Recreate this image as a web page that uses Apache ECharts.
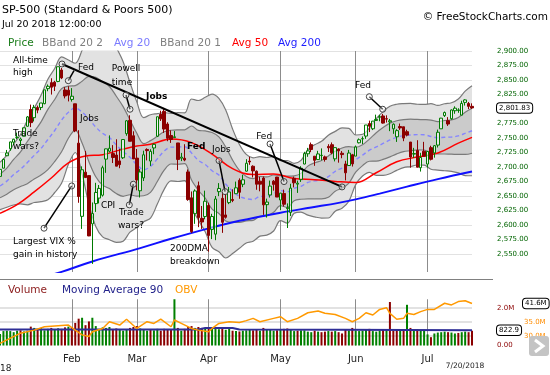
<!DOCTYPE html>
<html><head><meta charset="utf-8">
<script src="https://cdn.jsdelivr.net/npm/echarts@6/dist/echarts.min.js"></script>
<style>html,body{margin:0;padding:0;background:#fff}#c{width:550px;height:375px}</style>
</head><body><div id="c"></div><script>
const dates = ['1/2','1/3','1/4','1/5','1/8','1/9','1/10','1/11','1/12','1/16','1/17','1/18','1/19','1/22','1/23','1/24','1/25','1/26','1/29','1/30','1/31',
'2/1','2/2','2/5','2/6','2/7','2/8','2/9','2/12','2/13','2/14','2/15','2/16','2/20','2/21','2/22','2/23','2/26','2/27','2/28',
'3/1','3/2','3/5','3/6','3/7','3/8','3/9','3/12','3/13','3/14','3/15','3/16','3/19','3/20','3/21','3/22','3/23','3/26','3/27','3/28','3/29',
'4/2','4/3','4/4','4/5','4/6','4/9','4/10','4/11','4/12','4/13','4/16','4/17','4/18','4/19','4/20','4/23','4/24','4/25','4/26','4/27','4/30',
'5/1','5/2','5/3','5/4','5/7','5/8','5/9','5/10','5/11','5/14','5/15','5/16','5/17','5/18','5/21','5/22','5/23','5/24','5/25','5/29','5/30','5/31',
'6/1','6/4','6/5','6/6','6/7','6/8','6/11','6/12','6/13','6/14','6/15','6/18','6/19','6/20','6/21','6/22','6/25','6/26','6/27','6/28','6/29',
'7/2','7/3','7/5','7/6','7/9','7/10','7/11','7/12','7/13','7/16','7/17','7/18','7/19','7/20'];
const monthNames = ['Jan','Feb','Mar','Apr','May','Jun','Jul'];

const open = [2683.73,2697.85,2719.31,2731.33,2742.67,2751.15,2745.55,2752.97,2770.18,2798.96,2784.99,2802.40,2802.60,2809.16,2835.05,2845.42,2846.24,2847.48,2867.23,2832.74,2832.41,
2816.45,2808.92,2741.06,2614.78,2690.95,2685.01,2601.78,2636.75,2646.27,2651.21,2713.46,2727.14,2722.99,2720.53,2710.42,2715.80,2757.37,2780.45,2753.78,
2715.22,2658.89,2681.06,2730.18,2710.18,2732.75,2752.91,2790.54,2795.89,2774.06,2754.27,2750.57,2741.38,2715.05,2714.99,2691.36,2646.71,2619.35,2667.57,2611.30,2614.41,
2633.45,2592.17,2584.04,2657.36,2645.82,2617.18,2638.41,2643.89,2653.83,2676.90,2670.10,2692.74,2710.11,2701.16,2692.56,2675.40,2680.80,2634.92,2651.65,2675.47,2682.51,
2642.96,2654.24,2628.08,2621.45,2680.34,2670.26,2678.12,2705.02,2722.70,2738.47,2718.59,2712.62,2719.71,2717.35,2735.39,2738.34,2713.98,2730.94,2723.60,2705.11,2702.43,2720.98,
2718.70,2741.67,2748.46,2753.25,2774.84,2765.84,2780.18,2785.60,2787.94,2783.21,2777.78,2765.79,2752.01,2769.73,2769.28,2760.79,2742.94,2722.12,2728.45,2698.69,2727.13,
2704.95,2733.27,2724.19,2737.68,2765.79,2788.56,2779.82,2783.14,2796.93,2797.36,2789.34,2811.35,2809.37,2804.55];
const high = [2695.89,2714.37,2729.29,2743.45,2748.51,2759.14,2750.80,2767.56,2787.85,2807.54,2807.04,2805.83,2810.33,2833.03,2842.24,2852.97,2848.56,2872.87,2870.62,2837.75,2839.26,
2835.96,2808.92,2763.39,2701.04,2727.67,2685.27,2638.67,2672.61,2668.84,2702.10,2731.51,2754.42,2737.60,2747.75,2731.26,2747.76,2780.64,2789.15,2761.52,
2730.89,2696.25,2728.09,2732.08,2730.60,2740.45,2786.57,2796.98,2801.90,2777.11,2763.03,2761.85,2741.38,2724.22,2739.14,2695.68,2657.67,2661.36,2674.78,2632.65,2659.07,
2638.30,2619.14,2649.86,2672.08,2656.88,2653.55,2665.45,2661.43,2674.72,2680.26,2686.49,2713.34,2717.49,2702.84,2693.94,2682.86,2683.55,2645.30,2676.48,2677.35,2682.87,
2655.27,2660.87,2637.14,2670.93,2683.35,2676.34,2701.27,2726.11,2732.86,2742.10,2718.59,2727.76,2731.96,2719.50,2739.19,2742.24,2733.33,2731.97,2727.36,2710.67,2729.34,2722.50,
2736.93,2749.16,2752.61,2772.39,2779.90,2779.39,2790.21,2789.80,2791.47,2789.06,2782.81,2774.99,2765.05,2774.86,2769.28,2764.17,2742.94,2732.91,2746.09,2724.34,2743.26,
2727.26,2736.58,2737.83,2764.41,2784.65,2795.58,2785.91,2799.22,2804.53,2801.19,2814.19,2816.76,2812.05,2809.70];
const low = [2682.36,2697.77,2719.07,2727.92,2737.60,2747.86,2736.06,2752.78,2769.64,2768.64,2778.38,2792.56,2798.08,2808.12,2830.59,2824.81,2830.94,2846.18,2851.48,2818.27,2813.04,
2812.70,2759.97,2638.17,2593.07,2681.33,2580.56,2532.69,2622.45,2637.08,2648.87,2689.82,2725.11,2706.76,2701.29,2697.77,2713.74,2753.78,2744.22,2713.54,
2659.65,2647.32,2675.75,2711.26,2701.74,2721.92,2751.54,2779.26,2758.68,2744.38,2741.47,2749.97,2694.59,2710.05,2709.79,2641.59,2585.89,2601.81,2596.12,2593.06,2609.72,
2553.80,2575.49,2573.61,2649.58,2586.27,2610.79,2635.78,2639.25,2653.83,2645.05,2665.16,2692.05,2703.63,2681.90,2660.61,2657.99,2617.32,2612.67,2647.16,2659.01,2648.04,
2625.41,2631.70,2594.62,2615.32,2664.70,2655.20,2674.14,2704.54,2717.45,2725.47,2701.91,2712.17,2711.36,2709.18,2725.70,2721.88,2709.54,2707.38,2714.99,2676.81,2702.43,2700.68,
2718.70,2740.54,2739.51,2748.46,2760.16,2763.59,2780.17,2778.78,2774.65,2776.52,2761.73,2757.12,2743.19,2763.91,2744.39,2752.68,2698.67,2715.60,2699.38,2691.99,2718.03,
2698.95,2711.16,2716.02,2733.52,2765.79,2786.24,2770.77,2781.53,2791.69,2793.39,2789.24,2805.89,2799.77,2800.01];
const close = [2695.81,2713.06,2723.99,2743.15,2747.71,2751.29,2748.23,2767.56,2786.24,2776.42,2802.56,2798.03,2810.30,2832.97,2839.13,2837.54,2839.25,2872.87,2853.53,2822.43,2823.81,
2821.98,2762.13,2648.94,2695.14,2681.66,2581.00,2619.55,2656.00,2662.94,2698.63,2731.20,2732.22,2716.26,2701.33,2703.96,2747.30,2779.60,2744.28,2713.83,
2677.67,2691.25,2720.94,2728.12,2726.80,2738.97,2786.57,2783.02,2765.31,2749.48,2747.33,2752.01,2712.92,2716.94,2711.93,2643.69,2588.26,2658.55,2612.62,2605.00,2640.87,
2581.88,2614.45,2644.69,2662.84,2604.47,2613.16,2656.87,2642.19,2663.99,2656.30,2677.84,2706.39,2708.64,2693.13,2670.14,2670.29,2634.56,2639.40,2666.94,2669.91,2648.05,
2654.80,2635.67,2629.73,2663.42,2672.63,2671.92,2697.79,2723.07,2727.72,2730.13,2711.45,2722.46,2720.13,2712.97,2733.01,2724.44,2733.29,2727.76,2721.33,2689.86,2724.01,2705.27,
2734.62,2746.87,2748.80,2772.35,2770.37,2779.03,2782.00,2786.85,2775.63,2782.49,2779.66,2773.75,2762.59,2767.32,2749.76,2754.88,2717.07,2723.06,2699.63,2716.31,2718.37,
2726.71,2713.22,2736.61,2759.82,2784.17,2793.84,2774.02,2798.29,2801.31,2798.43,2809.55,2815.62,2804.49,2801.83];
const prevClose = 2673.61;

const volume = [0.62,0.78,0.80,0.78,0.72,0.80,0.82,0.76,0.80,1.02,0.95,0.88,0.95,0.82,0.90,0.95,0.88,0.93,0.90,0.98,1.02,
1.00,1.22,1.45,1.50,1.10,1.30,1.50,1.05,0.88,0.98,0.95,1.00,0.85,0.92,0.88,0.80,0.85,0.95,1.00,
1.05,0.92,0.85,0.80,0.85,0.82,0.90,0.80,0.90,0.88,0.85,2.50,0.95,0.80,0.90,1.00,1.05,0.95,1.00,0.95,0.90,
1.00,0.92,1.00,0.88,0.92,0.85,0.90,0.80,0.78,0.76,0.80,0.82,0.85,0.82,0.85,0.80,0.95,0.88,0.85,0.80,0.82,
0.88,0.90,0.92,0.85,0.78,0.80,0.82,0.82,0.75,0.72,0.80,0.75,0.72,0.75,0.78,0.75,0.78,0.72,0.65,0.85,0.82,0.95,
0.80,0.78,0.80,0.88,0.90,0.78,0.75,0.80,0.85,0.82,2.35,0.80,0.88,0.82,0.85,2.20,0.95,0.82,0.88,0.80,0.85,
0.60,0.45,0.65,0.70,0.72,0.75,0.72,0.70,0.65,0.68,0.72,0.75,0.72,0.80];

const bandIdx = [0,2,4,6,8,10,12,14,16,18,20,22,24,26,28,30,32,34,36,38,40,42,44,46,48,50,52,54,56,58,60,62,64,66,68,70,72,74,76,78,80,82,84,86,88,90,92,94,96,98,100,102,104,106,108,110,112,114,116,118,120,122,124,126,128,130,132,134,136,138];
const bbUpper2 = [2707.9,2720.5,2739.2,2756.0,2780.3,2801.4,2823.7,2851.3,2869.9,2889.7,2884.5,2878.9,2901.3,2929.9,2940.2,2936.6,2926.9,2906.0,2881.5,2845.5,2812.2,2785.0,2790.0,2791.9,2793.7,2792.4,2793.7,2793.3,2817.2,2814.6,2820.1,2825.5,2818.1,2798.1,2765.5,2738.8,2721.6,2715.8,2717.8,2716.3,2718.3,2711.0,2711.1,2706.3,2711.2,2729.6,2738.2,2744.2,2754.7,2761.3,2767.3,2766.4,2755.1,2756.3,2767.1,2783.4,2795.5,2804.7,2808.1,2809.3,2809.8,2808.1,2807.8,2809.2,2806.1,2809.0,2810.8,2817.3,2830.7,2840.0];
const bbUpper1 = [2687.5,2698.0,2713.0,2726.1,2743.9,2760.7,2777.8,2799.3,2816.4,2835.2,2839.5,2840.4,2847.9,2856.3,2854.5,2847.3,2838.8,2822.0,2804.1,2781.0,2758.0,2740.1,2745.4,2752.9,2760.6,2763.3,2764.0,2764.1,2770.6,2763.0,2762.1,2759.4,2752.0,2734.3,2711.8,2694.0,2683.4,2679.8,2683.5,2682.8,2686.1,2685.1,2684.1,2684.7,2688.9,2701.4,2707.1,2711.1,2719.0,2726.9,2732.7,2735.0,2733.7,2738.3,2748.0,2758.9,2768.0,2775.6,2779.6,2781.7,2782.5,2781.9,2781.6,2780.9,2778.2,2780.1,2781.2,2785.4,2794.3,2801.2];
const avg20 = [2667.1,2675.5,2686.8,2696.1,2707.5,2720.0,2731.9,2747.3,2762.9,2780.7,2794.5,2801.9,2794.5,2782.7,2768.8,2758.0,2750.7,2738.0,2726.7,2716.5,2703.8,2695.2,2700.8,2713.9,2727.5,2734.2,2734.3,2734.9,2724.0,2711.4,2704.1,2693.3,2685.9,2670.5,2658.0,2649.2,2645.2,2643.8,2649.2,2649.3,2653.9,2659.2,2657.1,2663.1,2666.6,2673.2,2676.0,2678.0,2683.3,2692.5,2698.1,2703.6,2712.3,2720.3,2728.9,2734.4,2740.5,2746.5,2751.1,2754.1,2755.2,2755.7,2755.4,2752.6,2750.3,2751.2,2751.6,2753.5,2757.9,2762.4];
const bbLower1 = [2646.7,2653.0,2660.6,2666.2,2671.1,2679.3,2686.0,2695.3,2709.4,2726.2,2749.5,2763.4,2741.1,2709.1,2683.1,2668.7,2662.6,2654.0,2649.3,2652.0,2649.6,2650.3,2656.2,2674.9,2694.4,2705.1,2704.6,2705.7,2677.4,2659.8,2646.1,2627.2,2619.8,2606.7,2604.3,2604.4,2607.0,2607.8,2614.9,2615.8,2621.7,2633.3,2630.1,2641.5,2644.3,2645.0,2644.9,2644.9,2647.6,2658.1,2663.5,2672.2,2690.9,2702.3,2709.8,2709.9,2713.0,2717.4,2722.6,2726.5,2727.9,2729.5,2729.2,2724.3,2722.4,2722.3,2722.0,2721.6,2721.5,2723.6];
const bbLower2 = [2626.3,2630.5,2634.4,2636.2,2634.7,2638.6,2640.1,2643.3,2655.9,2671.7,2704.5,2724.9,2687.7,2635.5,2597.4,2579.4,2574.5,2570.0,2571.9,2587.5,2595.4,2605.4,2611.6,2635.9,2661.3,2676.0,2674.9,2676.5,2630.8,2608.2,2588.1,2561.1,2553.7,2542.9,2550.5,2559.6,2568.8,2571.8,2580.6,2582.3,2589.5,2607.4,2603.1,2619.9,2622.0,2616.8,2613.8,2611.8,2611.9,2623.7,2628.9,2640.8,2669.5,2684.3,2690.7,2685.4,2685.5,2688.3,2694.1,2698.9,2700.6,2703.3,2703.0,2696.0,2694.5,2693.4,2692.4,2689.7,2685.1,2684.8];

const avg50Idx = [0,5,10,15,20,25,30,35,40,44,50,56,62,68,74,80,86,92,98,104,110,116,122,128,134,138];
const avg50 = [2620,2635,2657,2681,2707,2719,2721,2729,2736,2739,2748,2742,2722,2697,2687,2688,2680,2678,2675,2673,2690,2709,2717,2724,2741,2751];
const avg200Idx = [0,18,27,41,50,61,70,82,91,99,104,111,119,128,138];
const avg200 = [2488,2519,2537,2560,2576,2594,2607,2621,2630,2638,2644,2654,2666,2679,2692];

const volMa90Idx = [0,58,60,68,70,100,138];
const volMa90 = [0.86,0.87,0.95,0.95,0.87,0.85,0.8229];
const obvIdx = [0,6,10,13,16,20,22,24,26,27,30,32,35,37,40,43,45,47,50,51,53,56,58,61,62,64,67,70,72,74,76,80,82,84,87,90,93,95,98,101,103,105,107,109,111,113,114,116,118,119,121,123,125,127,130,132,134,136,138];
const obv = [27.4,31.0,32.1,33.3,33.6,33.9,32.1,30.4,29.8,31.5,32.7,35.1,33.9,36.0,32.7,35.1,34.5,36.0,33.3,35.7,34.5,32.7,32.1,31.5,32.7,34.5,35.1,34.8,35.5,36.3,35.1,36.3,36.9,35.1,36.3,38.3,38.9,38.1,37.7,36.3,35.1,36.3,38.3,37.5,39.5,40.1,38.1,36.0,36.3,38.1,37.7,38.7,39.5,39.5,41.7,41.1,42.3,42.6,41.6];

const priceTicks = [2550,2575,2600,2625,2650,2675,2700,2725,2750,2775,2800,2825,2850,2875,2900];
const obvTicks = [30,35];
const obvGridVals = [30,35,40];

const annTexts = [
  ['All-time',3.8,2883,0],['high',3.8,2862,0],['Fed',22.8,2872,0],['Powell',32.7,2869,0],['time',32.7,2845,0],
  ['Jobs',42.7,2822,1],['Jobs',23.4,2783,0],['Trade',3.8,2757,0],['wars?',3.8,2734.5,0],['CPI',29.5,2633,0],
  ['Trade',34.8,2621,0],['wars?',34.5,2598,0],['Largest VIX %',3.8,2571,0],['gain in history',3.8,2548,0],
  ['Fed',54.7,2734.5,1],['Jobs',62.0,2729,0],['200DMA',49.7,2559,0],['breakdown',49.7,2536,0],['Fed',74.9,2753,0],['Fed',103.8,2840,0]
];
const annLines = [
  [18.13,2877.6,100.0,2665.5,1,1,2],
  [19.97,2848.8,21.64,2866.0,1,0,1.5],
  [36.84,2824.1,38.01,2799.5,1,1,1.5],
  [12.87,2594.3,20.96,2667.2,1,1,1.5],
  [37.81,2634.5,38.98,2670.2,1,1,1.5],
  [64.04,2710.9,65.79,2657.4,1,1,1.5],
  [78.95,2739.7,83.04,2674.7,1,1,1.5],
  [107.98,2821.2,111.9,2799.5,1,1,1.5]
];

const FONT = "'DejaVu Sans', Verdana, sans-serif";
const UP = '#008000', DOWN = '#8b0000';
const N = dates.length;
const mon = d => +d.split('/')[0];
const isMonthStart = i => i > 0 && mon(dates[i]) !== mon(dates[i-1]);
const pairs = (idx, vals) => idx.map((x, k) => [x, vals[k]]);
const diff = (a, b) => a.map((v, k) => +(v - b[k]).toFixed(2));

const yMin = 2518.75, yMax = 2900, yStep = 6.25;
const priceSplitColors = [];
for (let v = yMin; v <= yMax + 1e-6; v += yStep) priceSplitColors.push(priceTicks.includes(v) ? '#e2e2e2' : 'rgba(0,0,0,0)');
const oMin = 26.25, oMax = 45, oStep = 1.25;
const obvSplitColors = [];
for (let v = oMin; v <= oMax + 1e-6; v += oStep) obvSplitColors.push(obvGridVals.includes(v) ? '#e2e2e2' : 'rgba(0,0,0,0)');

const fmt2 = v => v.toLocaleString('en-US', {minimumFractionDigits: 2, maximumFractionDigits: 2});

const candleData = open.map((o, i) => [o, close[i], low[i], high[i]]);
const volData = volume.map((v, i) => ({value: v, itemStyle: {color: (i === 0 ? close[0] >= prevClose : close[i] >= close[i-1]) ? UP : DOWN}}));

const chart = echarts.init(document.getElementById('c'), null, {width: 550, height: 375});

const xBase = {type: 'category', data: dates, boundaryGap: false, axisLine: {show: false}, axisTick: {show: false}};
const vSplit = {show: true, interval: (i) => isMonthStart(i), lineStyle: {color: '#8c8c8c', width: 1}};
const bandCommon = {type: 'line', xAxisIndex: 0, yAxisIndex: 0, stack: 'bb', symbol: 'none', smooth: 0.35, silent: true, lineStyle: {color: '#7a7a7a', width: 1.2}, z: 1};

chart.setOption({
  animation: false,
  grid: [
    {left: 0, top: 51, width: 472, height: 221},
    {left: 0, top: 299.25, width: 472, height: 46.25},
    {left: 0, top: 294, width: 472, height: 52.5}
  ],
  xAxis: [
    Object.assign({}, xBase, {gridIndex: 0, axisLabel: {show: false}, splitLine: vSplit}),
    Object.assign({}, xBase, {gridIndex: 1, splitLine: vSplit,
      axisLabel: {show: true, interval: (i) => isMonthStart(i), formatter: (v) => monthNames[mon(v) - 1], color: '#222', fontSize: 10, fontFamily: FONT, margin: 8.5}}),
    Object.assign({}, xBase, {gridIndex: 2, axisLabel: {show: false}, splitLine: {show: false}})
  ],
  yAxis: [
    {type: 'value', gridIndex: 0, position: 'right', min: yMin, max: yMax, interval: yStep, scale: true,
     axisLine: {show: false}, axisTick: {show: false},
     axisLabel: {margin: 25, color: '#006400', fontSize: 7, fontFamily: FONT, formatter: (v) => priceTicks.includes(v) ? fmt2(v) : ''},
     splitLine: {show: true, lineStyle: {color: priceSplitColors, width: 1}}},
    {type: 'value', gridIndex: 1, position: 'right', min: 0, max: 2.5, interval: 0.5,
     axisLine: {show: false}, axisTick: {show: false}, splitLine: {show: false},
     axisLabel: {margin: 25, color: '#8b0000', fontSize: 7, fontFamily: FONT, formatter: (v) => v === 0 ? '0.00' : (v === 2 ? '2.0M' : '')}},
    {type: 'value', gridIndex: 2, position: 'right', min: oMin, max: oMax, interval: oStep,
     axisLine: {show: false}, axisTick: {show: false},
     splitLine: {show: true, lineStyle: {color: obvSplitColors, width: 2}},
     axisLabel: {margin: 52, color: '#ff8c00', fontSize: 7, fontFamily: FONT, formatter: (v) => obvTicks.includes(v) ? v.toFixed(1) + 'M' : ''}}
  ],
  series: [
    Object.assign({}, bandCommon, {name: 'bbL2', data: pairs(bandIdx, bbLower2)}),
    Object.assign({}, bandCommon, {name: 'bbL1', data: pairs(bandIdx, diff(bbLower1, bbLower2)), areaStyle: {color: '#e2e2e2', opacity: 1}}),
    Object.assign({}, bandCommon, {name: 'bbU1', data: pairs(bandIdx, diff(bbUpper1, bbLower1)), areaStyle: {color: '#cbcbcb', opacity: 1}}),
    Object.assign({}, bandCommon, {name: 'bbU2', data: pairs(bandIdx, diff(bbUpper2, bbUpper1)), areaStyle: {color: '#e2e2e2', opacity: 1}}),
    {type: 'line', name: 'avg20', xAxisIndex: 0, yAxisIndex: 0, data: pairs(bandIdx, avg20), symbol: 'none', smooth: 0.35, silent: true,
     lineStyle: {color: '#8585ff', width: 1.4, type: [4, 3]}, z: 3},
    {type: 'line', name: 'avg50', xAxisIndex: 0, yAxisIndex: 0, data: pairs(avg50Idx, avg50), symbol: 'none', smooth: 0.4, silent: true,
     lineStyle: {color: '#ff0000', width: 1.5}, z: 3},
    {type: 'line', name: 'avg200', xAxisIndex: 0, yAxisIndex: 0, data: pairs(avg200Idx, avg200), symbol: 'none', smooth: 0.4, silent: true,
     lineStyle: {color: '#1010ff', width: 2}, z: 3},
    {type: 'candlestick', name: 'price', xAxisIndex: 0, yAxisIndex: 0, data: candleData, barWidth: 3, clip: false, silent: true,
     itemStyle: {color: 'rgba(255,255,255,0.55)', color0: DOWN, borderColor: '#007a00', borderColor0: DOWN, borderWidth: 1}, z: 5},
    {type: 'bar', name: 'volume', xAxisIndex: 1, yAxisIndex: 1, data: volData, barWidth: 2, silent: true, z: 2},
    {type: 'line', name: 'ma90', xAxisIndex: 1, yAxisIndex: 1, data: pairs(volMa90Idx, volMa90), symbol: 'none', silent: true,
     lineStyle: {color: '#2e2e96', width: 2}, z: 3},
    {type: 'line', name: 'obv', xAxisIndex: 2, yAxisIndex: 2, data: pairs(obvIdx, obv), symbol: 'none', silent: true,
     lineStyle: {color: '#ff9900', width: 1.5}, z: 4}
  ]
});

function toPx(i, p) {
  const i0 = Math.floor(i), f = i - i0;
  const a = chart.convertToPixel({xAxisIndex: 0, yAxisIndex: 0}, [i0, p]);
  const b = chart.convertToPixel({xAxisIndex: 0, yAxisIndex: 0}, [Math.min(i0 + 1, N - 1), p]);
  return [a[0] + (b[0] - a[0]) * f, a[1]];
}
const txt = (text, x, y, size, color) => ({type: 'text', x: x, y: y, z: 100,
  style: {text: text, font: size + 'px ' + FONT, fill: color, verticalAlign: 'middle', align: 'left'}});

const g = [];
g.push(txt('SP-500 (Standard & Poors 500)', 2, 10, 11, '#000'));
g.push(txt('Jul 20 2018 12:00:00', 2, 25, 9.5, '#000'));
g.push({type: 'text', x: 548, y: 17, z: 100, style: {text: '\u00a9 FreeStockCharts.com', font: '10.5px ' + FONT, fill: '#000', align: 'right', verticalAlign: 'middle'}});
[['Price', 8, '#1a7d1a'], ['BBand 20 2', 42, '#7f7f7f'], ['Avg 20', 114, '#7b7bff'], ['BBand 20 1', 160, '#7f7f7f'], ['Avg 50', 232, '#ff0000'], ['Avg 200', 278, '#1c1cff']]
  .forEach(([t, x, c]) => g.push(txt(t, x, 43, 10.5, c)));
[['Volume', 8, '#8b1a1a'], ['Moving Average 90', 62, '#22228b'], ['OBV', 175, '#ff9900']]
  .forEach(([t, x, c]) => g.push(txt(t, x, 290, 10.5, c)));
g.push({type: 'line', z: 100, shape: {x1: 0, y1: 279.5, x2: 493, y2: 279.5}, style: {stroke: '#808080', lineWidth: 1}});
g.push({type: 'text', x: 465, y: 366, z: 100, style: {text: '7/20/2018', font: '7.5px ' + FONT, fill: '#222', align: 'center', verticalAlign: 'middle'}});
g.push({type: 'text', x: 0, y: 369, z: 100, style: {text: '2018', font: '9px ' + FONT, fill: '#222', align: 'center', verticalAlign: 'middle'}});

const boxStyle = (text, size) => ({text: text, font: size + 'px ' + FONT, fill: '#000', verticalAlign: 'middle', align: 'left',
  backgroundColor: '#fff', borderColor: '#000', borderWidth: 1, borderRadius: 3, padding: [1.5, 2, 1, 2]});
const yLast = chart.convertToPixel({yAxisIndex: 0}, close[N - 1]);
g.push({type: 'text', x: 497, y: yLast, z: 110, style: boxStyle(fmt2(close[N - 1]), 7)});
const yObv = chart.convertToPixel({yAxisIndex: 2}, obv[obv.length - 1]);
g.push({type: 'text', x: 523, y: yObv, z: 110, style: boxStyle(obv[obv.length - 1].toFixed(1) + 'M', 7)});
const yMa = chart.convertToPixel({yAxisIndex: 1}, volMa90[volMa90.length - 1]);
g.push({type: 'text', x: 497, y: yMa, z: 110, style: boxStyle((volMa90[volMa90.length - 1] * 1000).toFixed(1), 7)});

g.push({type: 'rect', z: 100, shape: {x: 529, y: 336, width: 20, height: 20, r: 3}, style: {fill: '#c4c4c4'}});
g.push({type: 'polyline', z: 101, shape: {points: [[535, 340], [543, 346], [535, 352]]}, style: {stroke: '#fff', lineWidth: 3, fill: null}});

annLines.forEach(([i1, p1, i2, p2, c1, c2, w]) => {
  const a = toPx(i1, p1), b = toPx(i2, p2);
  g.push({type: 'line', z: 120, shape: {x1: a[0], y1: a[1], x2: b[0], y2: b[1]}, style: {stroke: '#000', lineWidth: w}});
  if (c1) g.push({type: 'circle', z: 121, shape: {cx: a[0], cy: a[1], r: 3}, style: {stroke: '#444', lineWidth: 1, fill: 'rgba(255,255,255,0.35)'}});
  if (c2) g.push({type: 'circle', z: 121, shape: {cx: b[0], cy: b[1], r: 3}, style: {stroke: '#444', lineWidth: 1, fill: 'rgba(255,255,255,0.35)'}});
});
annTexts.forEach(([t, i, p, bold]) => {
  const a = toPx(i, p);
  g.push({type: 'text', x: a[0], y: a[1], z: 122, style: {text: t, font: (bold ? 'bold ' : '') + '9px ' + FONT, fill: '#000', verticalAlign: 'middle', align: 'left'}});
});

chart.setOption({graphic: g});
</script></body></html>
